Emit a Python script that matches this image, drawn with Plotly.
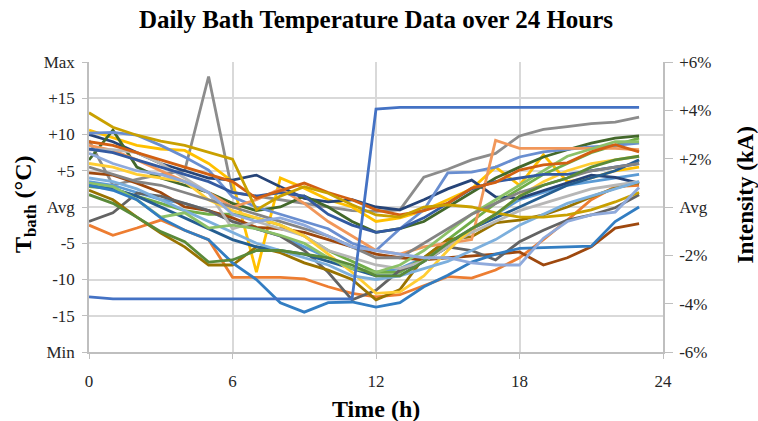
import plotly.graph_objects as go

hours = list(range(24))

# Intensity deviation (%), plotted on the secondary axis
intensity = [-3.72, -3.8, -3.8, -3.8, -3.8, -3.8, -3.8, -3.8, -3.8, -3.8, -3.8, -3.8,
             4.05, 4.12, 4.12, 4.12, 4.12, 4.12, 4.12, 4.12, 4.12, 4.12, 4.12, 4.12]

# Bath temperature deviation (degC) for each recorded day
bath_01 = [-2.5, -3.9, -2.9, -1.8, -3.2, -4.5, -9.7, -9.7, -9.7, -9.9, -11, -11.9, -12.4, -12.1, -10.8, -9.6, -9.8, -8.7, -7, -4.5, -1.8, 1, 2.8, 3]
bath_02 = [9.2, 3, 3.8, 4.5, 5, 18, 2, 1.5, 1, 0.5, 0, -0.5, -0.6, -0.4, 4.1, 5.2, 6.5, 7.4, 9.8, 10.7, 11.1, 11.5, 11.7, 12.4]
bath_03 = [10.6, 9.5, 8.5, 8, 7.8, 6, 3.5, -9, 4, 2.6, 1, 0, -2, -1.5, -0.5, 1, 2.5, 5.5, 3, 7.2, 3.5, 4, 5, 5.5]
bath_04 = [3.5, 3, 2, 1, 0.5, -0.5, -2, -3, -4, -5.5, -7, -8.5, -9, -8.5, -7, -5, -3, -1, 1, 2, 3, 3.5, 4, 4.5]
bath_05 = [2.8, 2.5, 1.5, 0.5, -0.5, -1, -1, -1.5, -2.5, -4, -6, -7.5, -9, -9, -7, -4.5, -2, 0.5, 2.5, 4.5, 6, 7.5, 8.5, 9.5]
bath_06 = [10, 9, 7.5, 6, 5, 4, 3.7, 4.4, 2.8, 1.2, 0.7, 1, 0, -0.4, 1, 2.5, 3.7, 1.4, 1.2, 2.3, 3.3, 4.4, 4.1, 3.3]
bath_07 = [4.7, 4.4, 3.3, 2, 0, -0.5, -1.5, -2.8, -3, -3.5, -4.5, -5.5, -6.5, -7, -7.3, -7, -6.8, -6.5, -6.2, -8, -7, -5.5, -2.9, -2.3]
bath_08 = [-2, -0.8, 1.9, 1.5, 0.5, -0.5, -2, -3, -4, -6, -9, -12.8, -11.5, -8.7, -7.5, -5.5, -6, -7.3, -4.8, -3.2, -1.8, -1.1, -0.1, 1.7]
bath_09 = [2.3, 1, -1.4, -3.6, -5.5, -8, -8, -5.5, -6.3, -7.7, -8.7, -10, -12.8, -11.4, -7, -4.5, -4.1, -2.2, -1.8, -1.1, 0, 1.4, 2.6, 3.4]
bath_10 = [3.0, 2.5, 1.5, 0, -1.5, -3, -4.5, -5.5, -6, -6.5, -7.5, -8.5, -9.5, -9.5, -7.5, -5.5, -3, -1.5, 0, 1.5, 3, 4, 5, 6.5]
bath_11 = [6.5, 10.6, 5.5, 4, 3, 2, 0.5, -0.5, 0, 1.5, 0, -2, -3.5, -3, -2, 0, 2, 4, 5.5, 6.9, 7.9, 8.8, 9.5, 9.8]
bath_12 = [10.2, 10.3, 9.9, 8.5, 6.9, 5.1, 1.4, 0, -1, -2, -3, -5, -6, -3, -0.4, 4.7, 4.8, 5.5, 6.9, 7.6, 8, 8.3, 8.5, 8.8]
bath_13 = [8.5, 7.8, 6.5, 5, 3.5, 2, 0, 1, 2.5, 0.5, -2, -4, -6, -6.5, -5.5, -5, -4.5, 9.2, 8.1, 8.1, 8.1, 8.1, 8.1, 7.9]
bath_14 = [7.9, 7.9, 7.5, 6, 4, 2, -3, -2, -3, -4, -6, -7, -8, -8.5, -7.5, -5.5, -3.5, -2, -0.5, 0.5, 1.5, 2.5, 3, 3.5]
bath_15 = [6, 5.5, 4.5, 4, 3.5, 1, -0.5, -1.5, -2.5, -4, -6.5, -9, -11.9, -11.7, -9.5, -6, -3, -1, 1.5, 3.5, 5, 6, 6.5, 7]
bath_16 = [4, 3.5, 2.5, 1, -0.5, -2, -3.5, -5, -6, -7, -8, -9.5, -10, -9.5, -8.5, -7.5, -6, -4.5, -2.5, -1, 0.5, 1.5, 2.5, 3.5]
bath_17 = [3.3, 2.8, 1, -1.4, -0.8, -2.9, -2.5, -3, -3.9, -5, -7, -8.5, -9, -8, -6, -3.5, -1, 1, 3, 5, 7, 8, 9, 9]
bath_18 = [8, 7.5, 6.5, 5.5, 4.5, 3.5, 2, 1.5, 2, 1.5, -1, -2.5, -3.5, -3, -1.5, 0.5, 2.5, 3.5, 4, 4.5, 4.5, 5, 5.5, 6]
bath_19 = [9, 8.5, 7.5, 6.5, 5.5, 4.4, 3.5, 1.2, 2.2, 3.3, 2, 1, -0.4, -1.1, -0.5, 0.5, 2.6, 3.4, 5.1, 5.8, 6.1, 7.6, 8.6, 7.6]
bath_20 = [5.5, 4.5, 3.5, 3, 2, 1, 0, -1, -2, -3, -4, -5.5, -7, -7, -5, -3, -1, 0.5, 2, 3, 4, 5, 5.5, 6]
bath_21 = [13, 11, 9.9, 9.1, 8.5, 7.6, 6.6, -0.4, 1.5, 2.8, 1.9, 0.3, -1.1, -1.4, 0, 0.3, 0, -0.8, -1.4, -1.4, -1.1, -0.4, 0.7, 2]
bath_22 = [3, 2.3, 1, -1.5, -3.2, -4.5, -7.7, -10, -13.2, -14.5, -13.2, -13.1, -13.8, -13.2, -11, -9.4, -7.6, -6.5, -5.7, -5.6, -5.5, -5.4, -2, 0]
bath_23 = [1.7, 0.5, -1.4, -3.4, -4.8, -7.6, -7.3, -6, -6, -6.5, -7, -8, -9.5, -9.5, -7.5, -5, -3, -1, 1.5, 3, 4, 5.5, 6.5, 7]
bath_24 = [7.4, 6, 5, 4.5, 3.5, 2, -1, -2, -1.5, -2.5, -4, -5.5, -6, -6.5, -7, -7, -7.7, -8, -8, -4.3, -2, -1.1, -0.7, 2.7]

bath_series = [bath_01, bath_02, bath_03, bath_04, bath_05, bath_06, bath_07, bath_08,
               bath_09, bath_10, bath_11, bath_12, bath_13, bath_14, bath_15, bath_16,
               bath_17, bath_18, bath_19, bath_20, bath_21, bath_22, bath_23, bath_24]

bath_colors = ["#ED7D31", "#8C8C8C", "#FFC000", "#5B9BD5", "#70AD47", "#264478",
               "#9E480E", "#636363", "#997300", "#255E91", "#43682B", "#698ED0",
               "#F1975A", "#B7B7B7", "#FFCD33", "#7CAFDD", "#8CC168", "#335AA1",
               "#D26012", "#848484", "#C9A000", "#327DC2", "#5A8A39", "#8FAADC"]

left_ticks = [-20, -15, -10, -5, 0, 5, 10, 15, 20]
left_labels = ["Min", "-15", "-10", "-5", "Avg", "+5", "+10", "+15", "Max"]
right_ticks = [-6, -4, -2, 0, 2, 4, 6]
right_labels = ["-6%", "-4%", "-2%", "Avg", "+2%", "+4%", "+6%"]
x_ticks = [0, 6, 12, 18, 24]

SERIF = "Liberation Serif, Times New Roman, serif"
GRID = "#D9D9D9"
AXIS = "#BFBFBF"
TICK_FONT = dict(family=SERIF, size=17, color="#262626")

fig = go.Figure()

fig.add_trace(go.Scatter(x=hours, y=intensity, mode="lines", yaxis="y2",
                         line=dict(color="#4472C4", width=2.8), showlegend=False))

for vals, col in zip(bath_series, bath_colors):
    fig.add_trace(go.Scatter(x=hours, y=vals, mode="lines",
                             line=dict(color=col, width=2.8), showlegend=False))

fig.update_layout(
    width=758, height=421,
    margin=dict(l=89, r=95, t=62, b=69),
    paper_bgcolor="white", plot_bgcolor="white",
    font=dict(family=SERIF, size=17, color="#262626"),
    xaxis=dict(range=[0, 24], tickvals=x_ticks, showgrid=True, gridcolor=GRID, gridwidth=1.5,
               zeroline=False, showline=True, linecolor=AXIS, linewidth=1.5,
               ticks="outside", ticklen=5, tickcolor=AXIS, ticklabelstandoff=8,
               tickfont=TICK_FONT),
    yaxis=dict(range=[-20, 20], tickvals=left_ticks, ticktext=left_labels,
               showgrid=True, gridcolor=GRID, gridwidth=1.5, zeroline=False,
               showline=True, linecolor=AXIS, linewidth=1.5,
               ticks="outside", ticklen=5, tickcolor=AXIS, ticklabelstandoff=4,
               tickfont=TICK_FONT),
    yaxis2=dict(range=[-6, 6], tickvals=right_ticks, ticktext=right_labels,
                overlaying="y", side="right", showgrid=False, zeroline=False,
                showline=True, linecolor=AXIS, linewidth=1.5,
                ticks="outside", ticklen=8, tickcolor=AXIS, ticklabelstandoff=3,
                tickfont=TICK_FONT),
    showlegend=False,
    annotations=[
        dict(text="<b>Daily Bath Temperature Data over 24 Hours</b>", xref="paper", yref="paper",
             x=0.5, y=1.145, showarrow=False, font=dict(family=SERIF, size=25, color="black"),
             xanchor="center", yanchor="middle"),
        dict(text="<b>T<sub>bath</sub> (°C)</b>", xref="paper", yref="paper",
             x=-0.1115, y=0.51, showarrow=False, textangle=-90,
             font=dict(family=SERIF, size=24, color="black"),
             xanchor="center", yanchor="middle"),
        dict(text="<b>Intensity (kA)</b>", xref="paper", yref="paper",
             x=1.143, y=0.54, showarrow=False, textangle=-90,
             font=dict(family=SERIF, size=23, color="black"),
             xanchor="center", yanchor="middle"),
        dict(text="<b>Time (h)</b>", xref="paper", yref="paper",
             x=0.5, y=-0.198, showarrow=False,
             font=dict(family=SERIF, size=24, color="black"),
             xanchor="center", yanchor="middle"),
    ],
)

fig.write_html("out.html")
